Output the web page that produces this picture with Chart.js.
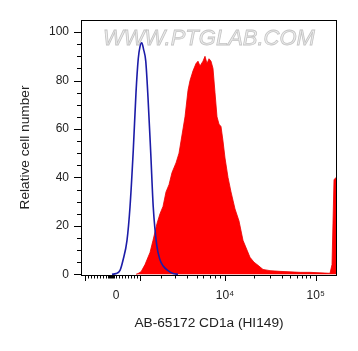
<!DOCTYPE html>
<html>
<head>
<meta charset="utf-8">
<script src="https://cdn.jsdelivr.net/npm/chart.js@4"></script>
<style>
  body { margin: 0; background: #fff; }
  #wrap { width: 358px; height: 351px; }
</style>
</head>
<body>
<div id="wrap"><canvas id="myChart" width="358" height="351"></canvas></div>
<script>
// x is in display channels (0-1024, logicle-like axis), y is relative cell number
const isotypeChannels = [124, 140, 156, 168, 184, 196, 209, 220, 229, 236, 243, 250, 259, 268, 279, 289, 303, 316, 328, 348, 368, 388];
const isotypeCounts   = [0, 0.3, 1.6, 5.8, 14, 27.8, 51, 75, 89, 94, 95.6, 93, 88, 73, 50, 27.8, 12, 6, 3.5, 1.5, 0.3, 0];

const stainedChannels = [220, 228, 240, 256, 276, 288, 304, 316, 328, 340, 352, 364, 380, 392, 400, 408, 416, 428, 436, 448, 460, 468, 476, 488, 496, 504, 512, 520, 528, 536, 544, 552, 560, 568, 576, 588, 600, 616, 632, 648, 664, 676, 692, 708, 728, 756, 796, 836, 876, 916, 956, 996, 1004, 1012, 1020, 1024];
const stainedCounts   = [0, 0.3, 1, 4, 9, 14, 21, 25, 28, 34, 37, 42, 46, 50, 55, 60, 65, 76, 80, 84, 87, 88, 86, 88, 90, 87, 89, 88, 85, 75, 65, 62, 61, 55, 48, 40, 34, 27, 22, 14, 10, 7, 5, 3.7, 2, 1.5, 1.2, 1, 0.8, 0.8, 0.6, 0.4, 4, 39, 40, 40];

const xTickChannels = [140, 576, 939];
const xTickLabels = ['0', '10⁴', '10⁵'];
const xMajorTicks = [15, 234, 576, 939];
const xMinorTicks = [28, 40, 52, 64, 76, 88, 100, 108, 112, 116, 120, 124, 128, 132, 140, 152, 164, 176, 188, 200, 212, 224,
                     320, 376, 423, 463, 489, 516, 536, 556,
                     693, 756, 803, 836, 863, 883, 900, 916];

const toPoints = (xs, ys) => xs.map((x, i) => ({x: x, y: ys[i]}));

// tick marks, frame and watermark
const decorations = {
    id: 'decorations',
    beforeDatasetsDraw(chart) {
        const {ctx, chartArea} = chart;
        ctx.save();
        ctx.font = 'italic 22px "Liberation Sans", Arial, sans-serif';
        ctx.textAlign = 'center';
        ctx.textBaseline = 'middle';
        ctx.fillStyle = '#ededed';
        ctx.strokeStyle = '#c4c4c4';
        ctx.lineWidth = 0.8;
        const cx = (chartArea.left + chartArea.right) / 2;
        ctx.fillText('WWW.PTGLAB.COM', cx, 39);
        ctx.strokeText('WWW.PTGLAB.COM', cx, 39);
        ctx.restore();
    },
    afterDraw(chart) {
        const {ctx, chartArea, scales} = chart;
        ctx.save();
        ctx.strokeStyle = '#000';
        ctx.lineWidth = 1;
        ctx.strokeRect(chartArea.left + 0.5, chartArea.top + 0.5,
            chartArea.right - chartArea.left - 1, chartArea.bottom - chartArea.top);
        ctx.beginPath();
        for (let v = 0; v <= 100; v += 5) {
            const y = Math.round(scales.y.getPixelForValue(v)) + 0.5;
            const len = v % 20 === 0 ? 7 : 4;
            ctx.moveTo(chartArea.left, y);
            ctx.lineTo(chartArea.left - len, y);
        }
        const bottom = chartArea.bottom;
        xMajorTicks.forEach(c => {
            const x = Math.round(scales.x.getPixelForValue(c)) + 0.5;
            ctx.moveTo(x, bottom);
            ctx.lineTo(x, bottom + 6);
        });
        xMinorTicks.forEach(c => {
            const x = Math.round(scales.x.getPixelForValue(c)) + 0.5;
            ctx.moveTo(x, bottom);
            ctx.lineTo(x, bottom + 3.5);
        });
        ctx.stroke();
        ctx.restore();
    }
};

const config = {
    type: 'line',
    data: {
        datasets: [{
            label: 'Isotype control',
            data: toPoints(isotypeChannels, isotypeCounts),
            borderColor: '#1c1ca8',
            borderWidth: 1.6,
            fill: false,
            pointRadius: 0,
            cubicInterpolationMode: 'monotone',
            order: 0
        }, {
            label: 'AB-65172 CD1a (HI149)',
            data: toPoints(stainedChannels, stainedCounts),
            borderColor: 'rgb(232, 0, 0)',
            backgroundColor: 'rgb(255, 0, 0)',
            borderWidth: 0.8,
            fill: 'origin',
            pointRadius: 0,
            tension: 0,
            order: 1
        }]
    },
    options: {
        responsive: false,
        animation: false,
        layout: {
            padding: {left: 0, top: 20, right: 21, bottom: 0}
        },
        plugins: {
            legend: {display: false},
            tooltip: {enabled: false}
        },
        scales: {
            x: {
                type: 'linear',
                min: 0,
                max: 1024,
                afterFit: (scale) => { scale.height = 76; },
                afterBuildTicks: (scale) => {
                    scale.ticks = xTickChannels.map(v => ({value: v}));
                },
                grid: {display: false, drawTicks: false},
                border: {display: false},
                ticks: {
                    autoSkip: false,
                    maxRotation: 0,
                    padding: 13,
                    color: '#222',
                    font: {family: '"Liberation Sans", Arial, sans-serif', size: 12},
                    callback: (value) => {
                        const i = xTickChannels.indexOf(value);
                        return i >= 0 ? xTickLabels[i] : '';
                    }
                },
                title: {
                    display: true,
                    text: 'AB-65172 CD1a (HI149)',
                    color: '#222',
                    font: {family: '"Liberation Sans", Arial, sans-serif', size: 13.7},
                    padding: {top: 0, bottom: 20}
                }
            },
            y: {
                min: -0.3,
                max: 105,
                afterFit: (scale) => { scale.width = 81; },
                afterBuildTicks: (scale) => {
                    scale.ticks = [0, 20, 40, 60, 80, 100].map(v => ({value: v}));
                },
                grid: {display: false, drawTicks: false},
                border: {display: false},
                ticks: {
                    padding: 12,
                    color: '#222',
                    font: {family: '"Liberation Sans", Arial, sans-serif', size: 12}
                },
                title: {
                    display: true,
                    text: 'Relative cell number',
                    color: '#222',
                    font: {family: '"Liberation Sans", Arial, sans-serif', size: 13.7},
                    padding: {top: 17, bottom: 0}
                }
            }
        }
    },
    plugins: [decorations]
};

const myChart = new Chart(document.getElementById('myChart'), config);
</script>
</body>
</html>
